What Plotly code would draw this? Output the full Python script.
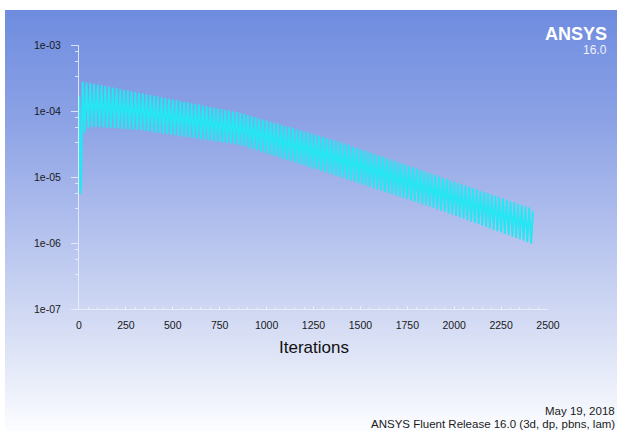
import plotly.graph_objects as go

# ---------------- data ----------------
start_iters = [1, 4, 7, 11, 15]
start_res = [1.7e-4, 9.0e-5, 5.5e-6, 8.5e-6, 4.0e-5]

cycle_len = 20      # iterations per oscillation
first_peak = 20     # iteration of first peak

peak_res = [
    2.75e-4, 2.69e-4, 2.63e-4, 2.57e-4, 2.51e-4, 2.45e-4, 2.38e-4, 2.32e-4, 2.26e-4, 2.21e-4,
    2.15e-4, 2.09e-4, 2.04e-4, 1.99e-4, 1.94e-4, 1.89e-4, 1.84e-4, 1.79e-4, 1.75e-4, 1.70e-4,
    1.66e-4, 1.61e-4, 1.57e-4, 1.53e-4, 1.49e-4, 1.46e-4, 1.42e-4, 1.38e-4, 1.35e-4, 1.31e-4,
    1.28e-4, 1.25e-4, 1.21e-4, 1.18e-4, 1.15e-4, 1.12e-4, 1.09e-4, 1.07e-4, 1.04e-4, 1.01e-4,
    9.86e-5, 9.60e-5, 9.33e-5, 8.99e-5, 8.65e-5, 8.33e-5, 8.02e-5, 7.73e-5, 7.43e-5, 7.16e-5,
    6.89e-5, 6.64e-5, 6.38e-5, 6.15e-5, 5.92e-5, 5.70e-5, 5.48e-5, 5.28e-5, 5.08e-5, 4.90e-5,
    4.71e-5, 4.54e-5, 4.37e-5, 4.21e-5, 4.05e-5, 3.90e-5, 3.75e-5, 3.61e-5, 3.48e-5, 3.33e-5,
    3.18e-5, 3.04e-5, 2.90e-5, 2.78e-5, 2.65e-5, 2.54e-5, 2.42e-5, 2.31e-5, 2.21e-5, 2.11e-5,
    2.02e-5, 1.93e-5, 1.84e-5, 1.76e-5, 1.68e-5, 1.61e-5, 1.53e-5, 1.47e-5, 1.40e-5, 1.34e-5,
    1.28e-5, 1.22e-5, 1.17e-5, 1.12e-5, 1.07e-5, 1.02e-5, 9.73e-6, 9.31e-6, 8.89e-6, 8.49e-6,
    8.13e-6, 7.76e-6, 7.41e-6, 7.10e-6, 6.78e-6, 6.49e-6, 6.19e-6, 5.92e-6, 5.66e-6, 5.41e-6,
    5.18e-6, 4.94e-6, 4.72e-6, 4.52e-6, 4.32e-6, 4.13e-6, 3.94e-6, 3.77e-6, 3.61e-6, 3.44e-6,
]

trough_res = [
    4.70e-5, 5.40e-5, 5.70e-5, 5.75e-5, 5.70e-5, 5.64e-5, 5.58e-5, 5.52e-5, 5.47e-5, 5.42e-5,
    5.36e-5, 5.31e-5, 5.25e-5, 5.20e-5, 5.15e-5, 5.11e-5, 5.01e-5, 4.91e-5, 4.82e-5, 4.72e-5,
    4.63e-5, 4.54e-5, 4.46e-5, 4.38e-5, 4.29e-5, 4.21e-5, 4.12e-5, 4.05e-5, 3.97e-5, 3.89e-5,
    3.82e-5, 3.74e-5, 3.67e-5, 3.60e-5, 3.53e-5, 3.47e-5, 3.40e-5, 3.33e-5, 3.27e-5, 3.21e-5,
    3.14e-5, 3.08e-5, 2.98e-5, 2.86e-5, 2.74e-5, 2.63e-5, 2.52e-5, 2.42e-5, 2.32e-5, 2.22e-5,
    2.13e-5, 2.04e-5, 1.96e-5, 1.88e-5, 1.80e-5, 1.73e-5, 1.66e-5, 1.59e-5, 1.52e-5, 1.46e-5,
    1.40e-5, 1.34e-5, 1.29e-5, 1.24e-5, 1.19e-5, 1.14e-5, 1.09e-5, 1.04e-5, 1.00e-5, 9.60e-6,
    9.18e-6, 8.79e-6, 8.43e-6, 8.07e-6, 7.73e-6, 7.40e-6, 7.08e-6, 6.79e-6, 6.50e-6, 6.22e-6,
    5.96e-6, 5.70e-6, 5.47e-6, 5.24e-6, 5.01e-6, 4.80e-6, 4.59e-6, 4.40e-6, 4.22e-6, 4.04e-6,
    3.86e-6, 3.70e-6, 3.55e-6, 3.40e-6, 3.25e-6, 3.10e-6, 2.96e-6, 2.82e-6, 2.69e-6, 2.56e-6,
    2.44e-6, 2.33e-6, 2.22e-6, 2.11e-6, 2.01e-6, 1.92e-6, 1.83e-6, 1.75e-6, 1.66e-6, 1.58e-6,
    1.51e-6, 1.44e-6, 1.37e-6, 1.31e-6, 1.25e-6, 1.19e-6, 1.14e-6, 1.08e-6, 1.03e-6, 9.80e-7,
]

end_iter = 2420
end_res = 3.0e-6

x_ticks = [0, 250, 500, 750, 1000, 1250, 1500, 1750, 2000, 2250, 2500]
y_ticks = [1e-7, 1e-6, 1e-5, 1e-4, 1e-3]
y_tick_text = ["1e-07", "1e-06", "1e-05", "1e-04", "1e-03"]
x_title = "Iterations"
date_text = "May 19, 2018"
release_text = "ANSYS Fluent Release 16.0 (3d, dp, pbns, lam)"

# ---------------- build series ----------------
xs = list(start_iters)
ys = list(start_res)
for i, (p, t) in enumerate(zip(peak_res, trough_res)):
    xi = first_peak + cycle_len * i
    xs += [xi, xi + cycle_len // 2]
    ys += [p, t]
xs.append(end_iter)
ys.append(end_res)

# ---------------- layout geometry ----------------
W, H = 617, 431
L, R, T, B = 79, 69, 45, 122
PW, PH = W - L - R, H - T - B

def px_x(px):
    return (px - L) / PW

def px_y(py):
    return (H - B - py) / PH

# background gradient stops (pixel y, rgb)
stops = [(10, (110, 140, 223)), (120, (140, 162, 229)), (200, (168, 184, 235)),
         (330, (214, 221, 244)), (431, (252, 253, 255))]

def grad(py):
    for (y0, c0), (y1, c1) in zip(stops[:-1], stops[1:]):
        if py <= y1:
            f = (py - y0) / (y1 - y0)
            return tuple(round(a + (b - a) * f) for a, b in zip(c0, c1))
    return stops[-1][1]

shapes = []
step = 2
for py in range(10, H, step):
    c = grad(py + step / 2)
    shapes.append(dict(type="rect", xref="paper", yref="paper", layer="below",
                       x0=px_x(5), x1=px_x(W + 2), y0=px_y(py + step + 0.5), y1=px_y(py),
                       fillcolor="rgb(%d,%d,%d)" % c, line=dict(width=0)))

fig = go.Figure()
fig.add_trace(go.Scatter(x=xs, y=ys, mode="lines",
                         line=dict(color="#25e6f2", width=1.9), hoverinfo="skip",
                         showlegend=False))

minor_y = []
for n in [-7, -6, -5, -4]:
    for m in [3.35, 5.7, 8.1]:
        minor_y.append(m * 10 ** n)

axis_col = "rgba(236,241,255,0.85)"
tick_font = dict(family="Liberation Sans, Arial, sans-serif", size=10.5, color="#1a1a1a")

fig.update_layout(
    width=W, height=H,
    margin=dict(l=L, r=R, t=T, b=B, pad=0),
    paper_bgcolor="white",
    plot_bgcolor="rgba(0,0,0,0)",
    shapes=shapes,
    xaxis=dict(range=[0, 2500], tickvals=x_ticks, showgrid=False, zeroline=False,
               showline=True, linecolor=axis_col, linewidth=1,
               ticks="inside", ticklen=3, tickcolor=axis_col,
               minor=dict(dtick=50, ticks="inside", ticklen=2, tickcolor=axis_col),
               tickfont=tick_font, ticklabelstandoff=6),
    yaxis=dict(type="log", range=[-7, -3], tickvals=y_ticks, ticktext=y_tick_text,
               showgrid=False, zeroline=False, showline=True, linecolor=axis_col,
               linewidth=1, ticks="outside", ticklen=7, tickcolor=axis_col,
               minor=dict(tickvals=minor_y, ticks="outside", ticklen=3, tickcolor=axis_col),
               tickfont=tick_font, ticklabelstandoff=8),
    annotations=[
        dict(text=x_title, xref="paper", yref="paper", x=0.5, y=px_y(347),
             xanchor="center", yanchor="middle", showarrow=False,
             font=dict(family="Liberation Sans, Arial, sans-serif", size=17, color="#111111")),
        dict(text=date_text, xref="paper", yref="paper", x=px_x(617), y=px_y(410.5),
             xanchor="right", yanchor="middle", showarrow=False,
             font=dict(family="Liberation Sans, Arial, sans-serif", size=11.5, color="#1a1a1a")),
        dict(text=release_text, xref="paper", yref="paper", x=px_x(617), y=px_y(424),
             xanchor="right", yanchor="middle", showarrow=False,
             font=dict(family="Liberation Sans, Arial, sans-serif", size=11.5, color="#1a1a1a")),
        dict(text="<b>ANSYS</b>", xref="paper", yref="paper", x=px_x(609), y=px_y(34),
             xanchor="right", yanchor="middle", showarrow=False,
             font=dict(family="Liberation Sans, Arial, sans-serif", size=18, color="#ffffff")),
        dict(text="16.0", xref="paper", yref="paper", x=px_x(609), y=px_y(49.5),
             xanchor="right", yanchor="middle", showarrow=False,
             font=dict(family="Liberation Sans, Arial, sans-serif", size=12, color="#eef1ff")),
    ],
)

fig.write_html("out.html")
